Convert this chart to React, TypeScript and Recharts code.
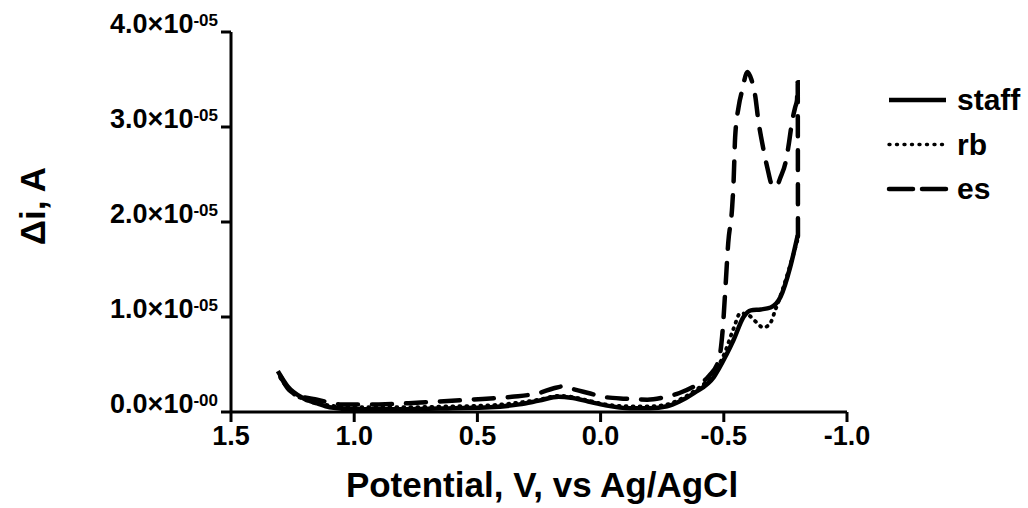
import React from 'react';
import { LineChart, Line, XAxis, YAxis, Legend } from 'recharts';

// Differential current (in units of 1e-5 A) against potential (V vs Ag/AgCl)
const staffPotential = [1.31, 1.27, 1.21, 1.15, 1.1, 1.0, 0.8, 0.6, 0.45, 0.33, 0.25, 0.17, 0.12, 0.05, -0.02, -0.12, -0.2, -0.27, -0.32, -0.38, -0.46, -0.51, -0.54, -0.58, -0.61, -0.65, -0.69, -0.73, -0.77, -0.8];
const staffCurrent = [0.43, 0.27, 0.15, 0.09, 0.05, 0.03, 0.03, 0.04, 0.05, 0.08, 0.12, 0.16, 0.15, 0.11, 0.07, 0.04, 0.04, 0.06, 0.11, 0.2, 0.37, 0.6, 0.76, 1.0, 1.07, 1.08, 1.1, 1.21, 1.53, 1.86];

const rbPotential = [1.3, 1.26, 1.2, 1.1, 1.0, 0.8, 0.6, 0.45, 0.33, 0.25, 0.17, 0.12, 0.05, -0.02, -0.12, -0.2, -0.27, -0.32, -0.38, -0.45, -0.5, -0.54, -0.567, -0.6, -0.63, -0.66, -0.685, -0.71, -0.74, -0.77, -0.8];
const rbCurrent = [0.36, 0.22, 0.13, 0.07, 0.05, 0.05, 0.06, 0.07, 0.1, 0.13, 0.17, 0.16, 0.12, 0.08, 0.06, 0.06, 0.08, 0.13, 0.22, 0.38, 0.6, 0.88, 1.04, 1.02, 0.95, 0.89, 0.92, 1.08, 1.3, 1.55, 1.82];

const esPotential = [1.3, 1.27, 1.22, 1.15, 1.05, 0.9, 0.73, 0.53, 0.36, 0.25, 0.19, 0.15, 0.11, 0.05, -0.01, -0.1, -0.19, -0.25, -0.32, -0.38, -0.44, -0.48, -0.495, -0.506, -0.518, -0.534, -0.54, -0.546, -0.56, -0.575, -0.595, -0.612, -0.628, -0.64, -0.656, -0.676, -0.7, -0.715, -0.73, -0.75, -0.762, -0.778, -0.79, -0.797, -0.8, -0.801];
const esCurrent = [0.38, 0.25, 0.17, 0.13, 0.08, 0.08, 0.1, 0.13, 0.16, 0.2, 0.25, 0.27, 0.24, 0.2, 0.16, 0.14, 0.13, 0.15, 0.2, 0.27, 0.38, 0.55, 0.85, 1.28, 1.78, 2.16, 2.44, 2.89, 3.21, 3.39, 3.58, 3.5, 3.32, 3.07, 2.83, 2.58, 2.37, 2.38, 2.47, 2.62, 2.79, 3.07, 3.21, 3.28, 3.47, 1.85];

const xTicks = [1.5, 1.0, 0.5, 0.0, -0.5, -1.0];
const yTicks = [0, 1, 2, 3, 4];
const yTickMantissa = ['0.0', '1.0', '2.0', '3.0', '4.0'];
const yTickExponent = ['-00', '-05', '-05', '-05', '-05'];

const seriesNames = ['staff', 'rb', 'es'];

const FONT = '"Liberation Sans", Arial, Helvetica, sans-serif';

const toPoints = (xs: number[], ys: number[]) => xs.map((p, i) => ({ potential: p, current: ys[i] }));

const staffData = toPoints(staffPotential, staffCurrent);
const rbData = toPoints(rbPotential, rbCurrent);
const esData = toPoints(esPotential, esCurrent);

const lineStyles: Record<string, { width: number; dash?: string }> = {
  staff: { width: 4.5 },
  rb: { width: 3.8, dash: '1 6' },
  es: { width: 4.5, dash: '20 14' },
};

const YTick = (props: any) => {
  const { x, y, payload } = props;
  const idx = yTicks.indexOf(payload.value);
  return (
    <text x={x - 1} y={y + 1} textAnchor="end" fontFamily={FONT} fontWeight="bold" fontSize={27} fill="#000">
      <tspan>{yTickMantissa[idx] + '\u00d710'}</tspan>
      <tspan dy={-7} fontSize={17}>{yTickExponent[idx]}</tspan>
    </text>
  );
};

const XTitle = (props: any) => {
  const { viewBox } = props;
  return (
    <text x={viewBox.x + viewBox.width / 2 + 3} y={viewBox.y + 85} textAnchor="middle" fontFamily={FONT} fontWeight="bold" fontSize={35} fill="#000">
      Potential, V, vs Ag/AgCl
    </text>
  );
};

const YTitle = (props: any) => {
  const { viewBox } = props;
  const cx = viewBox.x + 45;
  const cy = viewBox.y + 174;
  return (
    <text x={cx} y={cy} transform={`rotate(-90 ${cx} ${cy})`} textAnchor="middle" fontFamily={FONT} fontWeight="bold" fontSize={35} fill="#000">
      {'\u0394i, A'}
    </text>
  );
};

const LegendBox = () => (
  <svg width={148} height={130} style={{ display: 'block' }}>
    {seriesNames.map((name, i) => {
      const ly = 20 + i * 44.5;
      return (
        <g key={name}>
          <line x1={9} x2={66} y1={ly} y2={ly} stroke="#000" strokeWidth={name === 'rb' ? 3.4 : 4.5}
            strokeDasharray={name === 'rb' ? '1 6.5' : name === 'es' ? '24 9' : undefined}
            strokeLinecap={name === 'staff' ? 'butt' : 'round'} />
          <text x={77} y={ly + 10} fontFamily={FONT} fontWeight="bold" fontSize={30} fill="#000">{name}</text>
        </g>
      );
    })}
  </svg>
);

export default function App() {
  return (
    <div style={{ position: 'absolute', left: 0, top: 0, width: 1028, height: 508, background: '#fff' }}>
      <LineChart width={1028} height={508} margin={{ top: 32, right: 181, bottom: 0, left: 0 }}>
        <XAxis
          dataKey="potential"
          type="number"
          domain={[-1, 1.5]}
          reversed
          ticks={xTicks}
          interval={0}
          allowDataOverflow
          height={96}
          tickSize={10}
          tickMargin={4}
          tickFormatter={(v: number) => v.toFixed(1)}
          tick={{ fontFamily: FONT, fontWeight: 'bold', fontSize: 27, fill: '#000' }}
          axisLine={{ stroke: '#000', strokeWidth: 3 }}
          tickLine={{ stroke: '#000', strokeWidth: 3 }}
          label={{ content: XTitle }}
        />
        <YAxis
          dataKey="current"
          type="number"
          domain={[0, 4]}
          ticks={yTicks}
          interval={0}
          allowDataOverflow
          width={231}
          tickSize={10}
          tick={YTick}
          axisLine={{ stroke: '#000', strokeWidth: 3 }}
          tickLine={{ stroke: '#000', strokeWidth: 3 }}
          label={{ content: YTitle }}
        />
        <Legend
          layout="vertical"
          align="center"
          verticalAlign="middle"
          content={LegendBox}
          wrapperStyle={{ left: 880, top: 80, width: 148, height: 130 }}
        />
        <Line data={staffData} dataKey="current" name="staff" type="monotone" stroke="#000" strokeWidth={lineStyles.staff.width} dot={false} isAnimationActive={false} strokeLinejoin="round" />
        <Line data={rbData} dataKey="current" name="rb" type="monotone" stroke="#000" strokeWidth={lineStyles.rb.width} strokeDasharray={lineStyles.rb.dash} strokeLinecap="round" dot={false} isAnimationActive={false} />
        <Line data={esData} dataKey="current" name="es" type="monotone" stroke="#000" strokeWidth={lineStyles.es.width} strokeDasharray={lineStyles.es.dash} strokeLinecap="round" dot={false} isAnimationActive={false} />
      </LineChart>
    </div>
  );
}
